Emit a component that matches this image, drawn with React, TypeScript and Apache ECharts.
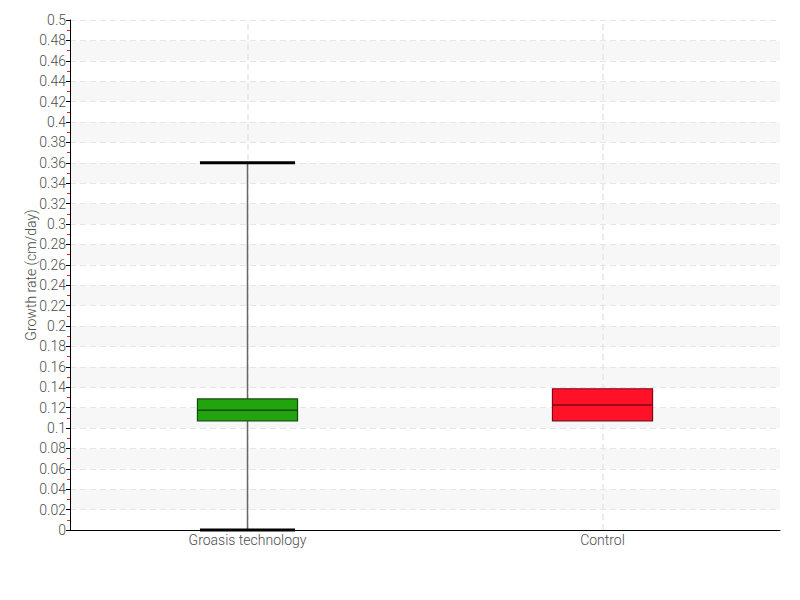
import React, { useEffect, useRef } from "react";
import * as echarts from "echarts";

const categories = ["Groasis technology", "Control"];
const lowValues = [0, 0.107];
const q1Values = [0.107, 0.107];
const medianValues = [0.1175, 0.1225];
const q3Values = [0.1285, 0.1385];
const highValues = [0.36, 0.1385];
const yTickInterval = 0.02;
const yMax = 0.5;

const boxFills = ["#22a40f", "#ff1128"];
const boxBorders = ["#124d0a", "#7a0a16"];

const FONT = "Roboto, 'Liberation Sans Narrow', sans-serif";

export default function App() {
  const ref = useRef<HTMLDivElement>(null);
  useEffect(() => {
    if (!ref.current) return;
    const chart = echarts.init(ref.current, null, { renderer: "svg" });
    const data = categories.map((_, i) => [
      i,
      lowValues[i],
      q1Values[i],
      medianValues[i],
      q3Values[i],
      highValues[i],
    ]);
    chart.setOption({
      animation: false,
      backgroundColor: "#ffffff",
      textStyle: { fontFamily: FONT },
      grid: { left: 70, right: 20, top: 20, bottom: 70, containLabel: false },
      xAxis: {
        type: "category",
        data: categories,
        boundaryGap: true,
        axisLine: { lineStyle: { color: "#000", width: 1 } },
        axisTick: { alignWithLabel: true, length: 4, lineStyle: { color: "#555" } },
        axisLabel: { color: "#4d4d4d", fontSize: 14, fontWeight: 300, fontFamily: FONT, margin: 3 },
        splitLine: { show: false },
      },
      yAxis: {
        type: "value",
        min: 0,
        max: yMax,
        interval: yTickInterval,
        name: "Growth rate (cm/day)",
        nameLocation: "middle",
        nameGap: 32,
        nameMoveOverlap: false,
        nameTextStyle: { color: "#4d4d4d", fontSize: 14, fontWeight: 300, fontFamily: FONT },
        axisLine: { show: true, lineStyle: { color: "#000", width: 1 } },
        axisTick: { show: true, length: 4, lineStyle: { color: "#000" } },
        minorTick: { show: true, splitNumber: 2, length: 3, lineStyle: { color: "#e8202a" } },
        axisLabel: { color: "#4d4d4d", fontSize: 14, fontWeight: 300, fontFamily: FONT, margin: 4 },
        splitLine: { show: true, lineStyle: { color: "#e6e6e6", type: [6, 4] } },
        splitArea: { show: true, areaStyle: { color: ["#ffffff", "#f7f7f7"] } },
      },
      series: [
        {
          type: "custom",
          data,
          encode: { x: 0, y: [1, 2, 3, 4, 5] },
          renderItem: (params: any, api: any) => {
            const idx = api.value(0);
            const i = params.dataIndex;
            const [cx, yLow] = api.coord([idx, api.value(1)]);
            const yQ1 = api.coord([idx, api.value(2)])[1];
            const yMed = api.coord([idx, api.value(3)])[1];
            const yQ3 = api.coord([idx, api.value(4)])[1];
            const yHigh = api.coord([idx, api.value(5)])[1];
            const band = api.size([1, 0])[0];
            const boxW = band * 0.282;
            const capW = band * 0.268;
            const children: any[] = [];
            const whisker = { stroke: "#666", lineWidth: 1.5 };
            const cap = { stroke: "#000", lineWidth: 3 };
            if (yLow - yQ1 > 0.5) {
              children.push({ type: "line", shape: { x1: cx, y1: yLow, x2: cx, y2: yQ1 }, style: whisker });
              children.push({ type: "line", shape: { x1: cx - capW / 2, y1: yLow, x2: cx + capW / 2, y2: yLow }, style: cap });
            }
            if (yQ3 - yHigh > 0.5) {
              children.push({ type: "line", shape: { x1: cx, y1: yQ3, x2: cx, y2: yHigh }, style: whisker });
              children.push({ type: "line", shape: { x1: cx - capW / 2, y1: yHigh, x2: cx + capW / 2, y2: yHigh }, style: cap });
            }
            children.push({
              type: "rect",
              shape: { x: cx - boxW / 2, y: yQ3, width: boxW, height: yQ1 - yQ3 },
              style: { fill: boxFills[i], stroke: boxBorders[i], lineWidth: 1.2 },
            });
            children.push({
              type: "line",
              shape: { x1: cx - boxW / 2, y1: yMed, x2: cx + boxW / 2, y2: yMed },
              style: { stroke: boxBorders[i], lineWidth: 1.5 },
            });
            return { type: "group", children };
          },
          markLine: {
            silent: true,
            symbol: "none",
            label: { show: false },
            lineStyle: { color: "#e6e6e6", type: [6, 4], width: 1.5 },
            data: categories.map((c) => ({ xAxis: c })),
            z: 1,
          },
          z: 3,
        },
      ],
    });
    return () => chart.dispose();
  }, []);
  return (
    <div
      ref={ref}
      style={{ position: "fixed", left: 0, top: 0, width: 800, height: 600 }}
    />
  );
}
